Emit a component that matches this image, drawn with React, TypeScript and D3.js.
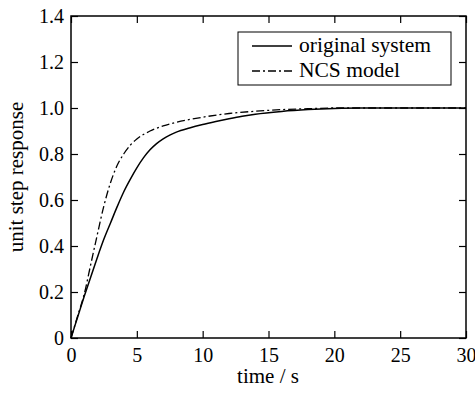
import { useEffect, useRef } from "react";
import * as d3 from "d3";

// original system step response
const origT = [0, 0.5, 1, 1.5, 2, 2.5, 3, 3.5, 4, 4.5, 5, 5.5, 6, 6.5, 7, 7.5, 8, 9, 10, 11, 12, 13, 14, 16, 18, 20, 22, 25, 30];
const origY = [0, 0.09, 0.18, 0.265, 0.35, 0.43, 0.5, 0.57, 0.635, 0.69, 0.74, 0.783, 0.818, 0.845, 0.866, 0.882, 0.895, 0.913, 0.928, 0.941, 0.953, 0.964, 0.973, 0.985, 0.993, 0.998, 1.0, 1.0, 1.0];

// NCS model step response
const ncsT = [0, 0.5, 1, 1.5, 2, 2.5, 3, 3.5, 4, 4.5, 5, 6, 7, 8, 10, 12, 14, 16, 18, 20, 25, 30];
const ncsY = [0, 0.095, 0.19, 0.32, 0.45, 0.575, 0.675, 0.75, 0.8, 0.838, 0.865, 0.9, 0.922, 0.938, 0.96, 0.976, 0.986, 0.993, 0.997, 1.0, 1.0, 1.0];

const xTicks = [0, 5, 10, 15, 20, 25, 30];
const yTicks = [0, 0.2, 0.4, 0.6, 0.8, 1.0, 1.2, 1.4];
const legendLabels = ["original system", "NCS model"];

const W = 475;
const H = 393;
const FONT = "Liberation Serif, DejaVu Serif, serif";

export default function App() {
  const svgRef = useRef<SVGSVGElement>(null);

  useEffect(() => {
    if (!svgRef.current) return;
    const svg = d3.select(svgRef.current);
    svg.selectAll("*").remove();

    const margin = { top: 16, right: 9, bottom: 55, left: 71 };
    const innerW = W - margin.left - margin.right;
    const innerH = H - margin.top - margin.bottom;

    const x = d3.scaleLinear().domain([0, 30]).range([0, innerW]);
    const y = d3.scaleLinear().domain([0, 1.4]).range([innerH, 0]);

    const g = svg.append("g").attr("transform", `translate(${margin.left},${margin.top})`);

    // curves
    const line = d3.line<[number, number]>()
      .x(d => x(d[0]))
      .y(d => y(d[1]))
      .curve(d3.curveMonotoneX);

    const orig = origT.map((t, i) => [t, origY[i]] as [number, number]);
    const ncs = ncsT.map((t, i) => [t, ncsY[i]] as [number, number]);

    g.append("path")
      .datum(ncs)
      .attr("fill", "none")
      .attr("stroke", "#000")
      .attr("stroke-width", 1.3)
      .attr("stroke-dasharray", "8,3,2,3")
      .attr("d", line);

    g.append("path")
      .datum(orig)
      .attr("fill", "none")
      .attr("stroke", "#000")
      .attr("stroke-width", 1.5)
      .attr("d", line);

    // frame with inward ticks
    const tickLen = 7;
    const axisStyle = (sel: any) => {
      sel.attr("font-family", null).attr("font-size", null);
      sel.select(".domain").remove();
      sel.selectAll("line").attr("stroke", "#000").attr("stroke-width", 1.2);
      sel.selectAll("text")
        .style("font-family", FONT)
        .style("font-size", "20px")
        .attr("fill", "#000");
    };

    g.append("g")
      .attr("transform", `translate(0,${innerH})`)
      .call(d3.axisBottom(x).tickValues(xTicks).tickSize(-tickLen).tickPadding(10).tickFormat(d3.format("d")))
      .call(axisStyle);

    g.append("g")
      .call(d3.axisTop(x).tickValues(xTicks).tickSize(-tickLen).tickFormat(() => ""))
      .call(axisStyle);

    g.append("g")
      .call(d3.axisLeft(y).tickValues(yTicks).tickSize(-tickLen).tickPadding(7)
        .tickFormat(d => (+d === 0 ? "0" : d3.format(".1f")(+d))))
      .call(axisStyle);

    g.append("g")
      .attr("transform", `translate(${innerW},0)`)
      .call(d3.axisRight(y).tickValues(yTicks).tickSize(-tickLen).tickFormat(() => ""))
      .call(axisStyle);

    g.append("rect")
      .attr("x", 0)
      .attr("y", 0)
      .attr("width", innerW)
      .attr("height", innerH)
      .attr("fill", "none")
      .attr("stroke", "#000")
      .attr("stroke-width", 1.5);

    // axis labels
    svg.append("text")
      .attr("x", 268)
      .attr("y", 383)
      .attr("text-anchor", "middle")
      .style("font-family", FONT)
      .style("font-size", "21px")
      .text("time / s");

    svg.append("text")
      .attr("transform", `translate(23,${margin.top + innerH / 2}) rotate(-90)`)
      .attr("text-anchor", "middle")
      .style("font-family", FONT)
      .style("font-size", "21px")
      .text("unit step response");

    // legend
    const legend = svg.append("g").attr("transform", "translate(238,32)");
    legend.append("rect")
      .attr("width", 213)
      .attr("height", 53)
      .attr("fill", "#fff")
      .attr("stroke", "#000")
      .attr("stroke-width", 1);

    legendLabels.forEach((label, i) => {
      const row = legend.append("g").attr("transform", `translate(0,${20 + i * 25})`);
      row.append("line")
        .attr("x1", 14)
        .attr("x2", 54)
        .attr("y1", -6)
        .attr("y2", -6)
        .attr("stroke", "#000")
        .attr("stroke-width", i === 0 ? 1.5 : 1.3)
        .attr("stroke-dasharray", i === 0 ? null : "8,3,2,3");
      row.append("text")
        .attr("x", 61)
        .attr("y", 0)
        .style("font-family", FONT)
        .style("font-size", "21.5px")
        .text(label);
    });
  }, []);

  return (
    <svg
      ref={svgRef}
      width={W}
      height={H}
      style={{ position: "absolute", left: 0, top: 0, background: "#fff" }}
    />
  );
}
